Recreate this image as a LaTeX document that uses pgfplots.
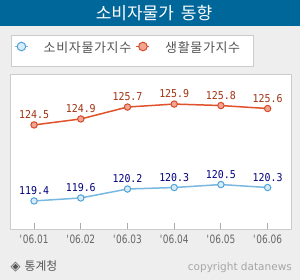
\documentclass[border=0pt]{standalone}
\usepackage{pgfplots}
\pgfplotsset{compat=1.18}
\usepackage{fontspec}
\setmainfont{DejaVu Sans}
\newfontfamily\kr{Noto Sans CJK KR}
\newfontfamily\krls{Noto Sans CJK KR}[LetterSpace=5]
\newfontfamily\tickfont{DejaVu Sans}[FakeStretch=0.78]
\newfontfamily\labfont{DejaVu Sans Mono}[FakeStretch=0.92]
\definecolor{bgc}{HTML}{EEEEEE}
\definecolor{titlebg}{HTML}{00679A}
\definecolor{axisgray}{HTML}{CCCCCC}
\definecolor{tickgray}{HTML}{AAAAAA}
\definecolor{labgray}{HTML}{666666}
\definecolor{leggray}{HTML}{555555}
\definecolor{legborder}{HTML}{CCCCCC}
\definecolor{redline}{HTML}{E0522B}
\definecolor{redfill}{HTML}{F2A590}
\definecolor{rededge}{HTML}{D94A2A}
\definecolor{redlab}{HTML}{A03010}
\definecolor{blueline}{HTML}{79B8E0}
\definecolor{bluefill}{HTML}{D8EBF8}
\definecolor{blueedge}{HTML}{4FA3D6}
\definecolor{bluelab}{HTML}{000080}
\begin{document}
\begin{tikzpicture}
\useasboundingbox (0pt,0pt) rectangle (300pt,-280pt);
\fill[bgc] (0pt,0pt) rectangle (300pt,-280pt);
\fill[titlebg] (0pt,0pt) rectangle (300pt,-26pt);
\node[text=white, font=\kr\fontsize{17}{18}\selectfont, inner sep=0pt] at (154pt,-12.8pt) {소비자물가\hspace{7pt}동향};
\begin{axis}[
  at={(10.7pt,-230pt)}, anchor=south west,
  scale only axis, width=280.3pt, height=155pt,
  xmin=-0.5, xmax=5.5, ymin=117.45, ymax=127.85,
  axis background/.style={fill=white},
  axis line style={draw=axisgray, line width=1pt},
  xtick={0,1,2,3,4,5},
  xticklabels={\textquotesingle06.01,\textquotesingle06.02,\textquotesingle06.03,\textquotesingle06.04,\textquotesingle06.05,\textquotesingle06.06},
  xtick pos=bottom, tick align=inside, major tick length=6.5pt,
  every tick/.style={draw=tickgray, line width=1pt},
  ytick=\empty,
  x tick label style={font=\tickfont\fontsize{11.5}{12}\selectfont, text=labgray, anchor=base, yshift=-13.5pt},
  clip=false,
  nodes near coords={\pgfmathprintnumber[fixed,fixed zerofill,precision=1,assume math mode=true]{\pgfplotspointmeta}},
  every node near coord/.append style={font=\labfont\fontsize{10.8}{12}\selectfont, anchor=base, yshift=6.5pt, inner sep=0pt},
  legend columns=2,
  legend image code/.code={
    \draw[mark repeat=2, mark phase=2, mark size=4.3pt] plot coordinates {(0pt,6.5pt) (6.5pt,6.5pt) (13pt,6.5pt)};
    \path (26pt,6.5pt);
  },
  legend style={at={(0,1)}, anchor=south west, yshift=8pt, draw=legborder, line width=1pt, fill=white,
    inner xsep=3pt, inner ysep=0pt, font=\krls\fontsize{13}{14}\selectfont, text=leggray,
    cells={anchor=base west},
    nodes={inner xsep=2pt, inner ysep=0pt, text height=17.5pt, text depth=13.5pt, text width=83.5pt},
    /tikz/every even column/.append style={column sep=6.5pt}},
]
\addplot[color=blueline, line width=1.5pt, mark=*, mark size=3.2pt,
  mark options={fill=bluefill, draw=blueedge, line width=1pt},
  every node near coord/.append style={text=bluelab}]
  coordinates {(0,119.4) (1,119.6) (2,120.2) (3,120.3) (4,120.5) (5,120.3)};
\addlegendentry{소비자물가지수}
\addplot[color=redline, line width=1.5pt, mark=*, mark size=3.2pt,
  mark options={fill=redfill, draw=rededge, line width=1pt},
  every node near coord/.append style={text=redlab}]
  coordinates {(0,124.5) (1,124.9) (2,125.7) (3,125.9) (4,125.8) (5,125.6)};
\addlegendentry{생활물가지수}
\end{axis}
\node[anchor=base west, text=leggray, font=\fontsize{13}{14}\selectfont, inner sep=0pt] at (10.5pt,-271pt) {◈\hspace{4pt}{\kr\fontsize{11.8}{13}\selectfont 통계청}};
\node[anchor=base east, text=gray!70, font=\fontsize{10.5}{12}\selectfont, inner sep=0pt] at (292pt,-271pt) {copyright datanews};
\end{tikzpicture}
\end{document}
